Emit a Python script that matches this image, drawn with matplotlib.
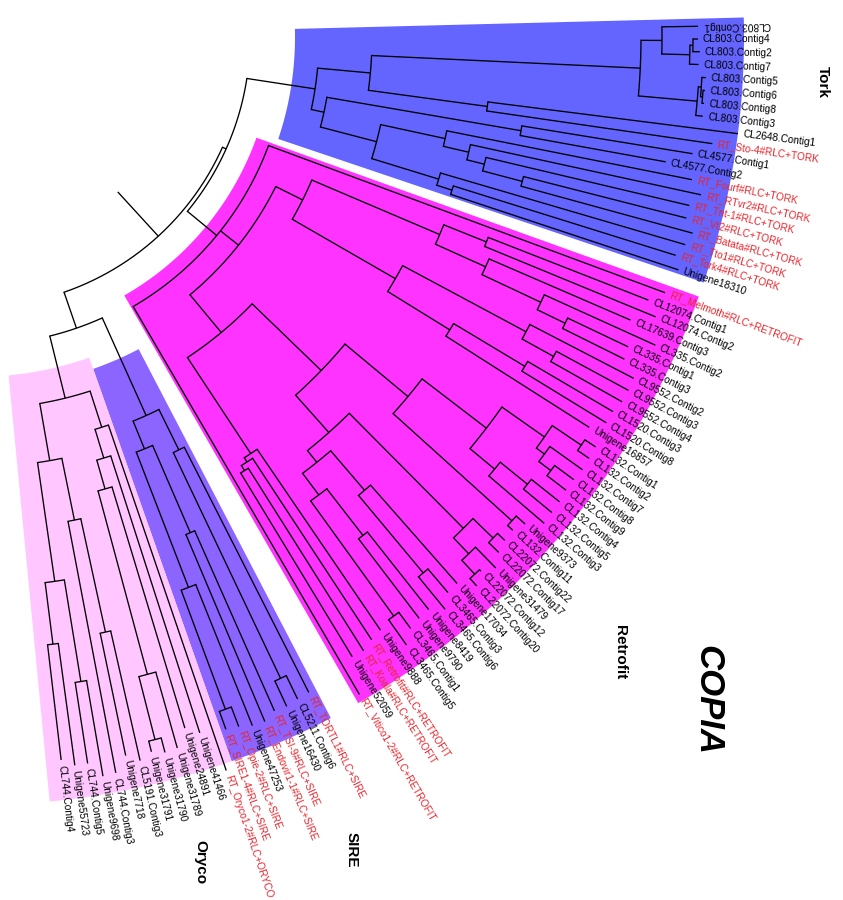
import numpy as np
import matplotlib
matplotlib.use("Agg")
import matplotlib.pyplot as plt
from matplotlib.patches import Polygon

plt.rcParams['font.family'] = ['Liberation Sans', 'DejaVu Sans']

# Tree data. Internal node: (depth, child, child, ...); leaf: (name, depth).
tork_cl803 = (6.65,
    (6.86, ("CL803.Contig1", 7.22),
           (7.14, (7.17, ("CL803.Contig4", 7.22), ("CL803.Contig2", 7.24)),
                  ("CL803.Contig7", 7.23))),
    (7.24, (7.27, ("CL803.Contig5", 7.31),
                  (7.29, ("CL803.Contig6", 7.31), ("CL803.Contig8", 7.31))),
           ("CL803.Contig3", 7.31)))
tork_rt = (4.14,
    (4.80, ("RT_Fourf#RLC+TORK", 7.30),
           (5.06, ("RT_RTvr2#RLC+TORK", 7.42),
                  (5.24, ("RT_Tnt-1#RLC+TORK", 7.33),
                         (5.65, ("RT_Vt2#RLC+TORK", 7.33), ("RT_Batata#RLC+TORK", 7.43))))),
    (4.84, ("RT_Tto1#RLC+TORK", 7.39),
           (5.00, ("RT_Tork4#RLC+TORK", 7.33), ("Unigene18310", 7.40))))
tork_tree = (3.43,
    (3.96, tork_cl803, (5.16, ("CL2648.Contig1", 7.68), ("RT_Sto-4#RLC+TORK", 7.44))),
    (3.56, (5.53, ("CL4577.Contig1", 7.26), ("CL4577.Contig2", 7.01)), tork_rt))

retro_d1 = (5.04,
    (5.50, ("CL12074.Contig1", 7.22), ("CL12074.Contig2", 7.35)),
    (5.59, ("CL17639.Contig3", 7.13),
           (6.24, ("CL335.Contig2", 7.46),
                  (6.55, ("CL335.Contig1", 7.22), ("CL335.Contig3", 7.24)))))
retro_d2 = (4.84,
    (6.24, ("CL9552.Contig2", 7.41),
           (6.60, ("CL9552.Contig3", 7.42), ("CL9552.Contig4", 7.42))),
    (5.57, (6.40, ("CL1520.Contig3", 7.39), ("CL1520.Contig8", 7.39)),
           ("Unigene16857", 7.27)))
retro_f1 = (5.62,
    (6.43,
        (6.95, (7.30, ("CL132.Contig1", 7.43), ("CL132.Contig2", 7.44)),
               (7.05, ("CL132.Contig7", 7.45),
                      (7.20, ("CL132.Contig8", 7.44), ("CL132.Contig9", 7.44)))),
        (6.75, (7.10, ("CL132.Contig4", 7.46), ("CL132.Contig5", 7.47)),
               ("CL132.Contig3", 7.48))),
    (7.22, ("Unigene9373", 7.34), ("CL132.Contig11", 7.29)))
retro_f2 = (5.30,
    (6.92, (7.20, ("CL22072.Contig22", 7.30), ("CL22072.Contig17", 7.34)),
           (7.14, ("Unigene31479", 7.43),
                  (7.33, ("CL22072.Contig12", 7.35), ("CL22072.Contig20", 7.43)))),
    (5.45,
        (5.97, ("Unigene17034", 7.28),
               (6.98, ("CL3465.Contig3", 7.29), ("CL3465.Contig6", 7.40))),
        (5.72, (6.31, ("Unigene8419", 7.30), ("Unigene9790", 7.31)),
               (7.14, ("CL3465.Contig1", 7.34), ("CL3465.Contig5", 7.45)))))
retro_low = (4.99, ("Unigene9888", 7.18),
    (5.04, ("RT_Retrofit#RLC+RETROFIT", 7.21),
           (5.10, ("RT_Koala#RLC+RETROFIT", 7.26), ("Unigene52059", 7.25))))
retrofit_tree = (3.12,
    ("RT_Melmoth#RLC+RETROFIT", 7.35),
    (3.35, (3.65, retro_d1, retro_d2), (3.84, (4.80, retro_f1, retro_f2), retro_low)),
    ("RT_Vitico1-2#RLC+RETROFIT", 7.61))

sire_tree = (4.15,
    (4.60, ("RT_TORTL1#RLC+SIRE", 7.35),
           (7.10, ("CL5211.Contig6", 7.36), ("Unigene16430", 7.38))),
    (4.45,
        (5.40, ("RT_TSI-9#RLC+SIRE", 7.37), ("RT_Endovir1-1#RLC+SIRE", 7.43)),
        (5.90, ("Unigene47253", 7.42),
               (7.17, ("RT_Opie-2#RLC+SIRE", 7.38), ("RT_SIRE1-4#RLC+SIRE", 7.36)))))

oryco_a = (4.10, ("RT_Oryco1-2#RLC+ORYCO", 7.75),
    (4.40, ("Unigene41466", 7.31),
           (4.70, ("Unigene24891", 7.22),
                  (6.60, ("Unigene31789", 7.39),
                         (7.25, ("Unigene31790", 7.40), ("Unigene31791", 7.36))))))
oryco_b = (4.30,
    (4.93, (6.09, ("CL5191.Contig3", 7.42), ("Unigene7718", 7.34)),
           ("CL744.Contig3", 7.49)),
    (5.50, (6.53, ("Unigene9698", 7.50), ("CL744.Contig5", 7.35)),
           (6.12, ("Unigene55723", 7.35), ("CL744.Contig4", 7.28))))
oryco_tree = (3.72, oryco_a, oryco_b)

clade_names = ["Tork", "Retrofit", "SIRE", "Oryco"]
clade_trees = [tork_tree, retrofit_tree, sire_tree, oryco_tree]
clade_colors = ["#6464ff", "#ff33ff", "#8c64ff", "#ffc6ff"]
clade_gap_before = [0.0, 1.0, 2.3, 0.0]      # extra leaf slots before each clade
clade_inner = [3.19, 2.98, 3.52, 3.40]       # inner depth of the shaded sectors
clade_outer = 7.68
clade_pad = [(0.6, 0.3), (0.6, 0.4), (0.6, 0.4), (0.6, 1.2)]

# whole tree: root -> (Tork + Retrofit) and (SIRE + Oryco)
root_depth, z_depth, y_depth, stub_depth = 2.70, 2.74, 3.08, 2.10
tree = (root_depth, (z_depth, tork_tree, retrofit_tree), (y_depth, sire_tree, oryco_tree))

# ---- layout ----
CX, CY = -24.0, 37.0       # pixel centre of the fan
SCALE = 100.0              # pixels per depth unit
A0, STEP = 0.85, 1.01      # angle of first leaf, degrees per leaf slot


def leaves_of(node):
    if isinstance(node[0], str):
        return [node[0]]
    out = []
    for ch in node[1:]:
        out += leaves_of(ch)
    return out


slot_of = {}
slot = 0.0
for gap, sub in zip(clade_gap_before, clade_trees):
    slot += gap
    for nm in leaves_of(sub):
        slot_of[nm] = slot
        slot += 1.0


def ang(s):
    return A0 - s * STEP


def xy(r, a):
    t = np.deg2rad(a)
    return CX + SCALE * r * np.cos(t), CY - SCALE * r * np.sin(t)


segments, arcs, tips = [], [], []


def lay(node):
    if isinstance(node[0], str):
        a = ang(slot_of[node[0]])
        tips.append((node[0], node[1], a))
        return a, node[1]
    d = node[0]
    kids = [lay(ch) for ch in node[1:]]
    angs = [k[0] for k in kids]
    for a, dk in kids:
        segments.append((d, dk, a))
    arcs.append((d, min(angs), max(angs)))
    return float(np.mean(angs)), d


root_angle, _ = lay(tree)
segments.append((stub_depth, root_depth, root_angle))

fig = plt.figure(figsize=(8.43, 9.0), dpi=100)
ax = fig.add_axes([0, 0, 1, 1])
ax.set_xlim(0, 843)
ax.set_ylim(900, 0)
ax.set_aspect('equal')
ax.axis('off')

# shaded clade sectors
for name, sub, col, rin, (pt, pb) in zip(clade_names, clade_trees, clade_colors,
                                         clade_inner, clade_pad):
    lv = leaves_of(sub)
    a_top = ang(slot_of[lv[0]]) + pt * STEP
    a_bot = ang(slot_of[lv[-1]]) - pb * STEP
    th = np.linspace(a_top, a_bot, 120)
    xo, yo = xy(clade_outer, th)
    xi, yi = xy(rin, th[::-1])
    poly = Polygon(np.column_stack([np.r_[xo, xi], np.r_[yo, yi]]), closed=True,
                   facecolor=col, edgecolor='none', zorder=1)
    ax.add_patch(poly)

# branches
LW = 0.95
for r0, r1, a in segments:
    x0, y0 = xy(r0, a)
    x1, y1 = xy(r1, a)
    ax.plot([x0, x1], [y0, y1], color='black', lw=LW, zorder=3, solid_capstyle='butt')
for r, a1, a2 in arcs:
    th = np.linspace(a1, a2, max(4, int(abs(a2 - a1) * 3)))
    x, y = xy(r, th)
    ax.plot(x, y, color='black', lw=LW, zorder=3)

# tip labels
for name, r, a in tips:
    col = '#e8262e' if name.startswith('RT_') else 'black'
    x, y = xy(r + 0.05, a)
    if name == "CL803.Contig1":
        ax.text(x, y, name, rotation=a + 180, rotation_mode='anchor', ha='right',
                va='center', fontsize=7.3, color=col, zorder=4)
    else:
        ax.text(x, y, name, rotation=a, rotation_mode='anchor', ha='left',
                va='center', fontsize=7.3, color=col, zorder=4)

# clade titles
ax.text(823, 82, "Tork", rotation=-90, ha='center', va='center', fontsize=11,
        fontweight='bold')
ax.text(620, 652, "Retrofit", rotation=-90, ha='center', va='center', fontsize=11,
        fontweight='bold')
ax.text(352, 850, "SIRE", rotation=-90, ha='center', va='center', fontsize=11,
        fontweight='bold')
ax.text(200, 862, "Oryco", rotation=-90, ha='center', va='center', fontsize=11,
        fontweight='bold')
ax.text(708, 700, "COPIA", rotation=-90, ha='center', va='center', fontsize=25,
        fontweight='bold', fontstyle='italic')

fig.savefig("out.png", dpi=100)
